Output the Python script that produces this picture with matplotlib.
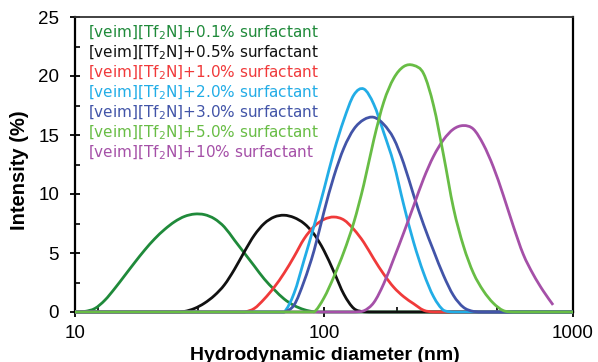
import matplotlib
matplotlib.use("Agg")
import numpy as np
import matplotlib.pyplot as plt
from matplotlib.ticker import FixedLocator, NullFormatter
from matplotlib.path import Path
from matplotlib.patches import PathPatch
from matplotlib.transforms import IdentityTransform

# Hydrodynamic diameter grid (nm)
diameter = [10.0, 10.96, 12.02, 13.18, 14.45, 15.85, 17.38, 19.05, 20.89, 22.91,
            25.12, 27.54, 30.20, 33.11, 36.31, 39.81, 43.65, 47.86, 52.48, 57.54,
            63.10, 69.18, 75.86, 83.18, 91.20, 100.0, 109.6, 120.2, 131.8, 144.5,
            158.5, 173.8, 190.5, 208.9, 229.1, 251.2, 275.4, 302.0, 331.1, 363.1,
            398.1, 436.5, 478.6, 524.8, 575.4, 631.0, 691.8, 758.6, 831.8, 912.0,
            1000.0]

s_01 = [0, 0.05, 0.3, 1.0, 2.0, 3.1, 4.2, 5.25, 6.2, 7.0,
        7.65, 8.1, 8.3, 8.25, 7.9, 7.2, 6.1, 5.0, 3.9, 2.8,
        1.9, 1.1, 0.55, 0.2, 0.02, 0, 0, 0, 0, 0,
        0, 0, 0, 0, 0, 0, 0, 0, 0, 0,
        0, 0, 0, 0, 0, 0, 0, 0, 0, 0, 0]
s_05 = [0, 0, 0, 0, 0, 0, 0, 0, 0, 0,
        0, 0.05, 0.3, 0.75, 1.4, 2.3, 3.6, 5.1, 6.5, 7.5,
        8.05, 8.2, 8.0, 7.5, 6.6, 5.2, 3.4, 1.5, 0.3, 0.02,
        0, 0, 0, 0, 0, 0, 0, 0, 0, 0,
        0, 0, 0, 0, 0, 0, 0, 0, 0, 0, 0]
s_10 = [0, 0, 0, 0, 0, 0, 0, 0, 0, 0,
        0, 0, 0, 0, 0, 0, 0, 0, 0.3, 1.1,
        2.1, 3.3, 4.7, 6.2, 7.25, 7.85, 8.05, 7.8, 7.0, 5.9,
        4.5, 3.2, 2.1, 1.3, 0.7, 0.15, 0, 0, 0, 0,
        0, 0, 0, 0, 0, 0, 0, 0, 0, 0, 0]
s_20 = [0, 0, 0, 0, 0, 0, 0, 0, 0, 0,
        0, 0, 0, 0, 0, 0, 0, 0, 0, 0,
        0, 0, 1.6, 4.4, 7.3, 10.4, 13.6, 16.3, 18.4, 18.9,
        17.6, 15.2, 12.6, 9.1, 5.9, 3.3, 1.3, 0.15, 0, 0,
        0, 0, 0, 0, 0, 0, 0, 0, 0, 0, 0]
s_30 = [0, 0, 0, 0, 0, 0, 0, 0, 0, 0,
        0, 0, 0, 0, 0, 0, 0, 0, 0, 0,
        0, 0, 0.6, 2.6, 5.2, 8.5, 11.5, 13.9, 15.5, 16.3,
        16.5, 15.9, 14.7, 12.6, 9.9, 7.4, 5.2, 3.1, 1.4, 0.4,
        0.05, 0, 0, 0, 0, 0, 0, 0, 0, 0, 0]
s_50 = [0, 0, 0, 0, 0, 0, 0, 0, 0, 0,
        0, 0, 0, 0, 0, 0, 0, 0, 0, 0,
        0, 0, 0, 0, 0, 1.2, 3.0, 5.1, 7.6, 10.8,
        14.6, 17.8, 19.8, 20.8, 20.9, 20.2, 17.5, 13.3, 8.8, 5.6,
        3.3, 1.8, 0.75, 0.12, 0, 0, 0, 0, 0, 0, 0]
s_100 = [0, 0, 0, 0, 0, 0, 0, 0, 0, 0,
         0, 0, 0, 0, 0, 0, 0, 0, 0, 0,
         0, 0, 0, 0, 0, 0, 0, 0, 0, 0.1,
         0.8, 2.4, 4.5, 6.7, 9.0, 11.3, 13.2, 14.6, 15.5, 15.8,
         15.5, 14.2, 12.3, 9.9, 7.3, 4.9, 3.2, 1.8, 0.6]

labels = [r"[veim][Tf$_2$N]+0.1% surfactant",
          r"[veim][Tf$_2$N]+0.5% surfactant",
          r"[veim][Tf$_2$N]+1.0% surfactant",
          r"[veim][Tf$_2$N]+2.0% surfactant",
          r"[veim][Tf$_2$N]+3.0% surfactant",
          r"[veim][Tf$_2$N]+5.0% surfactant",
          r"[veim][Tf$_2$N]+10% surfactant"]
colors = ["#1f8a3a", "#111111", "#f03a3a", "#22ade6", "#4254a8", "#68bd45", "#a550a8"]
series = [s_01, s_05, s_10, s_20, s_30, s_50, s_100]

y_ticks = [0, 5, 10, 15, 20, 25]
x_ticks = [10, 100, 1000]
x_minor = [12.4, 31.2, 196, 495]

plt.rcParams['mathtext.fontset'] = 'dejavusans'
fig = plt.figure(figsize=(5.98, 3.62), dpi=100)
ax = fig.add_axes([75/598, 1-312/362, 498/598, 295/362])

ax.set_xscale('log')
ax.set_xlim(10, 1000)
ax.set_ylim(0, 25)


def smooth_line(xs, ys, color, z):
    """Draw a smoothed line (like a spreadsheet 'smoothed line') through the data."""
    pts = ax.transData.transform(np.column_stack([xs, ys]))
    base = ax.transData.transform([[10, 0]])[0][1]
    n = len(pts)
    verts = [pts[0]]
    codes = [Path.MOVETO]
    for i in range(n - 1):
        p0 = pts[i - 1] if i > 0 else pts[i]
        p1 = pts[i]
        p2 = pts[i + 1]
        p3 = pts[i + 2] if i + 2 < n else pts[i + 1]
        c1 = p1 + (p2 - p0) / 6.0
        c2 = p2 - (p3 - p1) / 6.0
        c1[1] = max(c1[1], base)
        c2[1] = max(c2[1], base)
        verts += [c1, c2, p2]
        codes += [Path.CURVE4] * 3
    patch = PathPatch(Path(verts, codes), facecolor='none', edgecolor=color,
                      lw=2.0, transform=IdentityTransform(), clip_on=False,
                      zorder=z, capstyle='butt', joinstyle='round')
    ax.add_artist(patch)


order = [0, 1, 2, 3, 4, 6, 5]
for rank, i in enumerate(order):
    vals = series[i]
    smooth_line(diameter[:len(vals)], vals, colors[i], 3 + rank * 0.1)

ax.xaxis.set_major_locator(FixedLocator(x_ticks))
ax.set_xticklabels([str(t) for t in x_ticks])
ax.xaxis.set_minor_locator(FixedLocator(x_minor))
ax.xaxis.set_minor_formatter(NullFormatter())
ax.yaxis.set_major_locator(FixedLocator(y_ticks))
ax.yaxis.set_minor_locator(FixedLocator([2.5, 7.5, 12.5, 17.5, 22.5]))

for sp in ax.spines.values():
    sp.set_linewidth(1.6)
    sp.set_color('black')
ax.spines['top'].set_color('#333333')
ax.spines['top'].set_linewidth(1.3)

ax.tick_params(axis='both', which='major', direction='inout', length=7, width=1.3,
               labelsize=13.5, colors='black')
ax.tick_params(axis='both', which='minor', direction='in', length=3.5, width=1.2)
ax.tick_params(axis='y', which='major', pad=8)
ax.tick_params(axis='x', which='major', pad=6)
for lab in ax.get_xticklabels() + ax.get_yticklabels():
    lab.set_family('Liberation Sans')

ax.set_xlabel('Hydrodynamic diameter (nm)', fontsize=14, fontweight='bold',
              family='Liberation Sans')
ax.set_ylabel('Intensity (%)', fontsize=14.5, fontweight='bold',
              family='Liberation Sans')
ax.xaxis.set_label_coords(0.502, -0.117)
ax.yaxis.set_label_coords(-0.092, 0.48)

y0 = 33
for i, (lab, c) in enumerate(zip(labels, colors)):
    ypx = y0 + 20 * i
    ax.text((88 - 75) / 498, (312 - ypx) / 295, lab, color=c, fontsize=11,
            family='DejaVu Sans', va='center', ha='left', transform=ax.transAxes)

fig.savefig('out.png', dpi=100)
